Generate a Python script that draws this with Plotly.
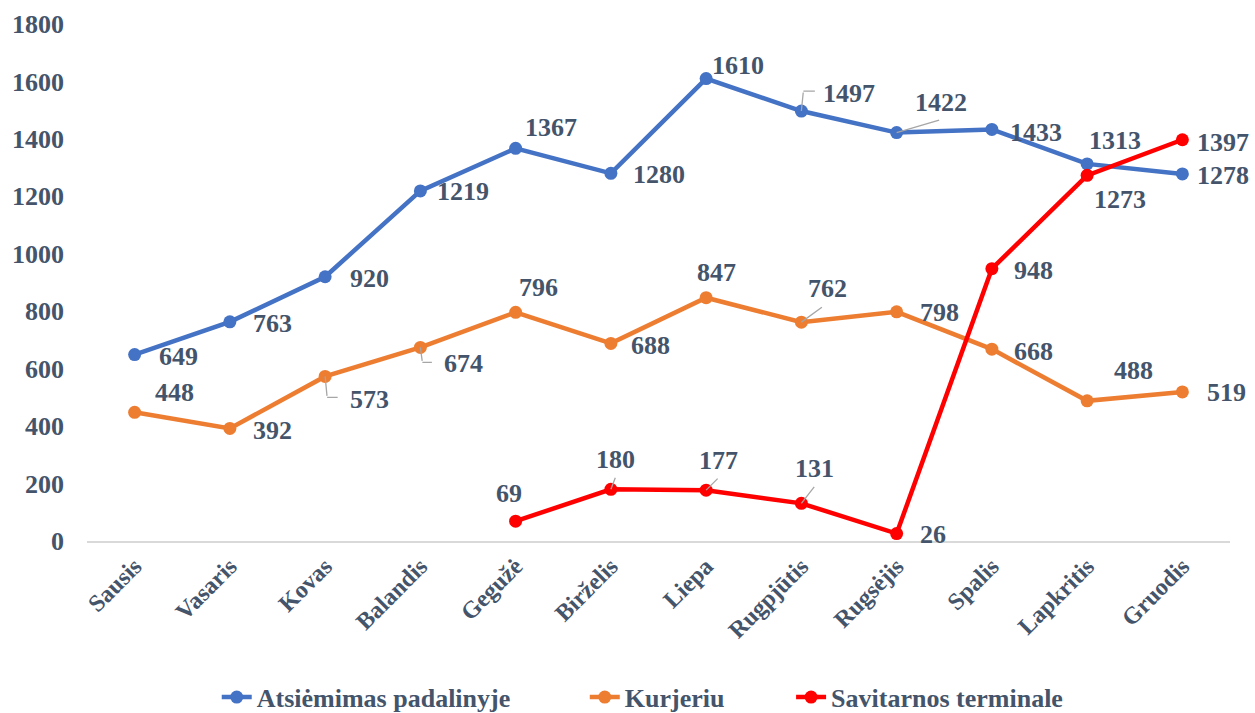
import plotly.graph_objects as go

months = ["Sausis", "Vasaris", "Kovas", "Balandis", "Gegužė", "Birželis", "Liepa",
          "Rugpjūtis", "Rugsėjis", "Spalis", "Lapkritis", "Gruodis"]
atsiemimas = [649, 763, 920, 1219, 1367, 1280, 1610, 1497, 1422, 1433, 1313, 1278]
kurjeriu = [448, 392, 573, 674, 796, 688, 847, 762, 798, 668, 488, 519]
savitarnos = [None, None, None, None, 69, 180, 177, 131, 26, 948, 1273, 1397]
y_ticks = [0, 200, 400, 600, 800, 1000, 1200, 1400, 1600, 1800]

names = ["Atsiėmimas padalinyje", "Kurjeriu", "Savitarnos terminale"]
colors = ["#4472C4", "#ED7D31", "#FF0000"]
legend_ids = ["legend", "legend2", "legend3"]
legend_x = [0.1135, 0.4355, 0.616]

# label placement offsets (pixels, x right, y up) per point
label_offsets = [
    [(44, -2), (43, -2), (44, -2), (43, -1), (35, 21), (48, -1), (32, 13), (48, 18), (44, 30), (44, -3), (28, 23), (41, -2)],
    [(40, 20), (43, -2), (44, -23), (43, -16), (23, 25), (40, -2), (10, 25), (26, 34), (43, -1), (42, -2), (46, 30), (44, -1)],
    [None, None, None, None, (-7, 28), (5, 30), (12, 30), (13, 35), (36, -1), (42, -2), (33, -24), (41, -3)],
]
# leader segments: (series, index, xshift, yshift, ax, ay)
leaders = [
    (0, 7, 0, 0, 2, -20), (0, 7, 2, 20, 13, 0),
    (0, 8, 0, 0, 44, -13),
    (1, 2, 0, 0, 2, 21), (1, 2, 2, -21, 12, 0),
    (1, 3, 0, 0, 2, 15), (1, 3, 2, -15, 11, 0),
    (1, 7, 0, 0, 22, -16),
    (2, 5, 0, 0, 5, -13),
    (2, 6, 0, 0, 13, -13),
    (2, 7, 0, 0, 14, -18),
]

FONT = "Liberation Serif"
TXT = "#44546A"
series = [atsiemimas, kurjeriu, savitarnos]

fig = go.Figure()
for s, name, col, lid in zip(series, names, colors, legend_ids):
    fig.add_trace(go.Scatter(
        x=months, y=s, name=name, mode="lines+markers",
        line=dict(color=col, width=4.5),
        marker=dict(color=col, size=13),
        connectgaps=False, legend=lid,
    ))

annotations = []
for si, s in enumerate(series):
    for i, v in enumerate(s):
        off = label_offsets[si][i]
        if v is None or off is None:
            continue
        annotations.append(dict(
            x=months[i], y=v, text=str(v), showarrow=False,
            xshift=off[0], yshift=off[1],
            font=dict(family=FONT, size=26, color=TXT, weight="bold"),
        ))
for si, i, xs, ys, ax, ay in leaders:
    annotations.append(dict(
        x=months[i], y=series[si][i], text="", showarrow=True,
        arrowhead=0, arrowwidth=1.3, arrowcolor="#A6A6A6",
        ax=ax, ay=ay, xshift=xs, yshift=ys, standoff=0, startstandoff=0,
    ))

legend_font = dict(family=FONT, size=26, color=TXT, weight="bold")
legends = {}
for lid, lx in zip(legend_ids, legend_x):
    legends[lid] = dict(orientation="h", x=lx, xanchor="left", y=-0.302, yanchor="middle",
                        font=legend_font, bgcolor="rgba(0,0,0,0)")

fig.update_layout(
    width=1255, height=713,
    margin=dict(l=87, r=25, t=24, b=172, autoexpand=False),
    paper_bgcolor="white", plot_bgcolor="white",
    font=dict(family=FONT, size=26, color=TXT, weight="bold"),
    showlegend=True,
    annotations=annotations,
    xaxis=dict(showgrid=False, showline=True, linecolor="#D9D9D9", linewidth=1.5,
               range=[-0.5, 11.5],
               ticks="", tickangle=-45, zeroline=False, automargin=False,
               tickfont=dict(family=FONT, size=24, color=TXT, weight="bold")),
    yaxis=dict(range=[0, 1800], tickvals=y_ticks, showgrid=False, zeroline=False,
               showline=False, ticks="", ticklabelstandoff=22, automargin=False,
               tickfont=dict(family=FONT, size=26, color=TXT, weight="bold")),
    **legends,
)

fig.write_html("out.html", config={"displayModeBar": False},
               post_script="document.body.style.margin='0';document.body.style.overflow='hidden';")
